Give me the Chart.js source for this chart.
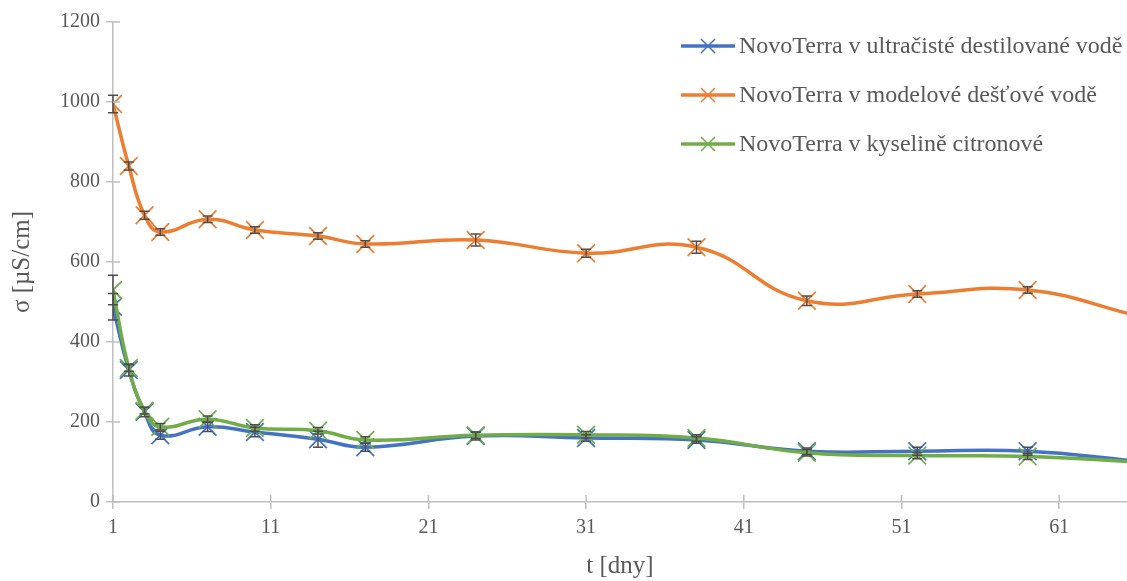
<!DOCTYPE html>
<html>
<head>
<meta charset="utf-8">
<script src="https://cdn.jsdelivr.net/npm/chart.js@4/dist/chart.umd.min.js"></script>
<style>
  html, body { margin: 0; padding: 0; background: #fff; }
  #wrap { width: 1127px; height: 581px; }
</style>
</head>
<body>
<div id="wrap"><canvas id="chart-sigma" width="1127" height="581"></canvas></div>
<script>
// dny mereni
const days = [1, 2, 3, 4, 7, 10, 14, 17, 24, 31, 38, 45, 52, 59, 66];
const xTickLabels = [1, 11, 21, 31, 41, 51, 61];
const yTickLabels = [0, 200, 400, 600, 800, 1000, 1200];

const seriesNames = [
    "NovoTerra v ultračisté destilované vodě",
    "NovoTerra v modelové dešťové vodě",
    "NovoTerra v kyselině citronové"
];
const seriesColors = ["#4472C4", "#ED7D31", "#70AD47"];

const ultraVals = [488, 330, 225, 167, 188, 175, 157, 137, 165, 160, 155, 127, 127, 127, 102];
const rainVals = [995, 840, 717, 675, 707, 680, 665, 645, 655, 622, 637, 503, 520, 530, 465];
const citricVals = [530, 335, 228, 188, 207, 185, 178, 155, 167, 168, 160, 123, 116, 114, 100];

const ultraErr = [33, 15, 12, 10, 12, 12, 20, 10, 10, 8, 8, 8, 10, 10, 0];
const rainErr = [22, 10, 10, 8, 8, 8, 8, 8, 15, 10, 15, 12, 8, 8, 0];
const citricErr = [37, 8, 8, 8, 8, 8, 8, 8, 8, 8, 8, 8, 8, 8, 0];

const values = [ultraVals, rainVals, citricVals];
const errors = [ultraErr, rainErr, citricErr];

const textColor = "#595959";
const axisColor = "#bfbfbf";
const serif = "'Liberation Serif', 'Times New Roman', serif";

// chybove useky
const errorBars = {
    id: "errorBars",
    afterDatasetsDraw(chart) {
        const ctx = chart.ctx;
        const yScale = chart.scales.y;
        ctx.save();
        ctx.strokeStyle = "#4d4d4d";
        ctx.lineWidth = 1.5;
        chart.data.datasets.forEach((ds, i) => {
            const meta = chart.getDatasetMeta(i);
            meta.data.forEach((pt, j) => {
                const e = errors[i][j];
                if (!e || pt.x > chart.chartArea.right) return;
                const top = yScale.getPixelForValue(values[i][j] + e);
                const bot = yScale.getPixelForValue(values[i][j] - e);
                ctx.beginPath();
                ctx.moveTo(pt.x, top); ctx.lineTo(pt.x, bot);
                ctx.moveTo(pt.x - 5, top); ctx.lineTo(pt.x + 5, top);
                ctx.moveTo(pt.x - 5, bot); ctx.lineTo(pt.x + 5, bot);
                ctx.stroke();
            });
        });
        ctx.restore();
    }
};

// vnitrni polovina krizovych znacek na osach
const innerTicks = {
    id: "innerTicks",
    afterDraw(chart) {
        const ctx = chart.ctx;
        const x = chart.scales.x, y = chart.scales.y;
        ctx.save();
        ctx.strokeStyle = axisColor;
        ctx.lineWidth = 1.5;
        ctx.beginPath();
        yTickLabels.forEach(v => {
            const py = y.getPixelForValue(v);
            ctx.moveTo(x.left, py); ctx.lineTo(x.left + 7, py);
        });
        xTickLabels.forEach(v => {
            const px = x.getPixelForValue(v);
            ctx.moveTo(px, y.bottom); ctx.lineTo(px, y.bottom - 7);
        });
        ctx.stroke();
        ctx.restore();
    }
};

// legenda vpravo nahore
const sideLegend = {
    id: "sideLegend",
    afterDraw(chart) {
        const ctx = chart.ctx;
        ctx.save();
        seriesNames.forEach((name, i) => {
            const cy = 46 + i * 49;
            ctx.strokeStyle = seriesColors[i];
            ctx.lineWidth = 3.5;
            ctx.beginPath();
            ctx.moveTo(681, cy); ctx.lineTo(735, cy);
            ctx.stroke();
            ctx.lineWidth = 1.5;
            ctx.beginPath();
            ctx.moveTo(701, cy - 7); ctx.lineTo(715, cy + 7);
            ctx.moveTo(715, cy - 7); ctx.lineTo(701, cy + 7);
            ctx.stroke();
            ctx.fillStyle = textColor;
            ctx.font = "24px " + serif;
            ctx.textBaseline = "middle";
            ctx.fillText(name, 739, cy + 1);
        });
        ctx.restore();
    }
};

const datasets = seriesNames.map((name, i) => ({
    label: name,
    data: days.map((d, j) => ({ x: d, y: values[i][j] })),
    borderColor: seriesColors[i],
    backgroundColor: seriesColors[i],
    borderWidth: 3.5,
    tension: 0.45,
    pointStyle: "crossRot",
    pointRadius: 12.5,
    pointBorderWidth: 1.7,
    order: 2 - i
}));

new Chart(document.getElementById("chart-sigma"), {
    type: "line",
    data: { datasets: datasets },
    plugins: [errorBars, innerTicks, sideLegend],
    options: {
        responsive: false,
        animation: false,
        layout: { autoPadding: false, padding: { top: 22, right: 0, left: 0, bottom: 0 } },
        plugins: {
            legend: { display: false },
            tooltip: { enabled: false }
        },
        scales: {
            x: {
                type: "linear",
                min: 1,
                max: 65.3,
                afterBuildTicks(scale) {
                    scale.ticks = xTickLabels.map(v => ({ value: v }));
                },
                afterFit(scale) {
                    scale.height = 79;
                    scale.paddingLeft = 0;
                    scale.paddingRight = 0;
                },
                grid: { drawOnChartArea: false, color: axisColor, lineWidth: 1.5, tickLength: 7 },
                border: { color: axisColor, width: 1.5 },
                ticks: {
                    color: textColor, font: { family: serif, size: 20 }, padding: 7, maxRotation: 0,
                    callback: v => String(v)
                },
                title: {
                    display: true, text: "t [dny]", color: textColor,
                    font: { family: serif, size: 25 }, padding: { top: 0, bottom: 0 }
                }
            },
            y: {
                min: 0,
                max: 1200,
                afterBuildTicks(scale) {
                    scale.ticks = yTickLabels.map(v => ({ value: v }));
                },
                afterFit(scale) {
                    scale.width = 113;
                    scale.paddingTop = 0;
                    scale.paddingBottom = 0;
                },
                grid: { drawOnChartArea: false, color: axisColor, lineWidth: 1.5, tickLength: 7 },
                border: { color: axisColor, width: 1.5 },
                ticks: {
                    color: textColor, font: { family: serif, size: 20 }, padding: 6,
                    callback: v => String(v)
                },
                title: {
                    display: true, text: "σ [µS/cm]", color: textColor,
                    font: { family: serif, size: 25 }, padding: { top: 7, bottom: 0 }
                }
            }
        }
    }
});
</script>
</body>
</html>
